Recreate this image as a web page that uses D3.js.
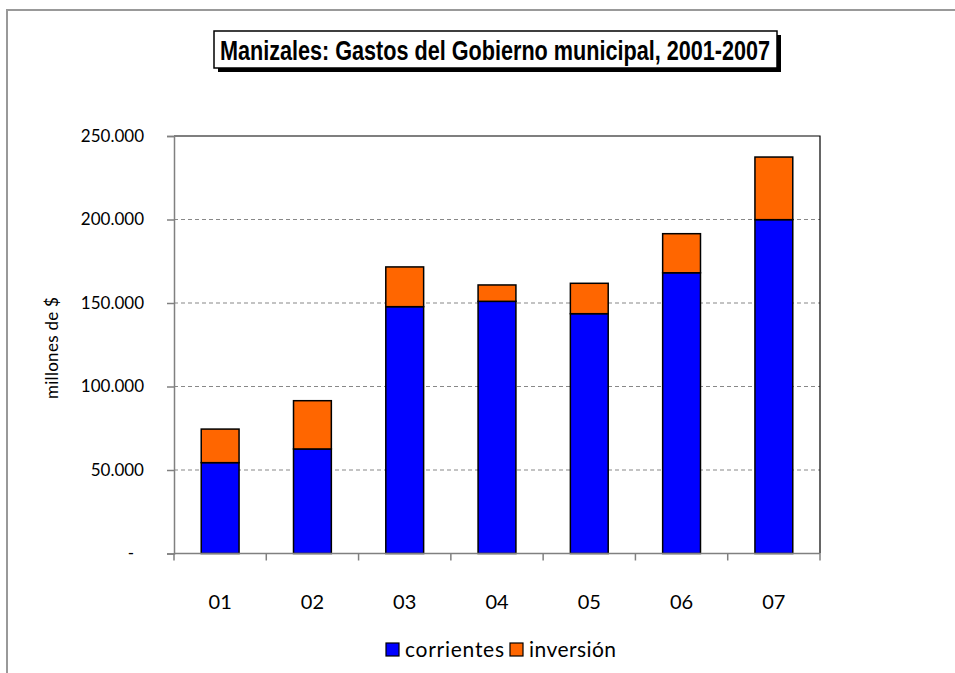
<!DOCTYPE html>
<html>
<head>
<meta charset="utf-8">
<script src="https://cdn.jsdelivr.net/npm/d3@7"></script>
<style>
  body { margin: 0; background: #fff; }
  svg { display: block; }
</style>
</head>
<body>
<div class="chart"></div>
<script>
// data
const years = ['01', '02', '03', '04', '05', '06', '07'];
const corrientes = [54400, 62600, 147800, 151000, 143600, 168100, 199900];
const inversion = [20100, 28900, 23800, 9800, 18200, 23400, 37500];
const seriesNames = ['corrientes', 'inversión'];
const yTicks = [0, 50000, 100000, 150000, 200000, 250000];

const W = 955, H = 673;
const margin = {top: 136, right: 135, bottom: 120, left: 174};
const width = W - margin.left - margin.right;
const height = H - margin.top - margin.bottom + 0.5;
const font = 'Lato, "Open Sans", sans-serif';

const svg = d3.select('.chart')
  .append('svg')
  .attr('width', W)
  .attr('height', H);

// outer chart border
svg.append('rect')
  .attr('x', 7).attr('y', 10)
  .attr('width', W + 10).attr('height', H + 10)
  .attr('fill', 'none')
  .attr('stroke', '#999')
  .attr('stroke-width', 2);

const g = svg.append('g')
  .attr('transform', `translate(${margin.left},${margin.top})`);

const x = d3.scaleBand()
  .domain(years)
  .range([0, width])
  .paddingInner(0.59)
  .paddingOuter(0.295);

const xb = d3.scaleBand().domain(years).range([0, width]);

const y = d3.scaleLinear()
  .domain([0, 250000])
  .range([height, 0]);

const fmt = d => d === 0 ? '-' : d3.format(',')(d).replace(/,/g, '.');

// gridlines
g.selectAll('.grid')
  .data(yTicks.filter(d => d > 0 && d < 250000))
  .enter().append('line')
  .attr('class', 'grid')
  .attr('x1', 0).attr('x2', width)
  .attr('y1', d => y(d)).attr('y2', d => y(d))
  .attr('stroke', '#888')
  .attr('stroke-width', 1.2)
  .attr('stroke-dasharray', '4,3');

// top and right frame
g.append('path')
  .attr('d', `M0,0H${width}V${height}`)
  .attr('fill', 'none')
  .attr('stroke', '#000')
  .attr('stroke-width', 1.2);

// stacked bars
const stackData = years.map((yr, i) => ({year: yr, corrientes: corrientes[i], 'inversión': inversion[i]}));
const stacked = d3.stack().keys(seriesNames)(stackData);
const color = d3.scaleOrdinal().domain(seriesNames).range(['#0000ff', '#ff6600']);

g.selectAll('.series')
  .data(stacked)
  .enter().append('g')
  .attr('class', 'series')
  .attr('fill', d => color(d.key))
  .selectAll('rect')
  .data(d => d)
  .enter().append('rect')
  .attr('x', d => x(d.data.year))
  .attr('y', d => y(d[1]))
  .attr('width', x.bandwidth())
  .attr('height', d => y(d[0]) - y(d[1]))
  .attr('stroke', '#000')
  .attr('stroke-width', 1.5);

// y axis
const yAxis = g.append('g')
  .call(d3.axisLeft(y).tickValues(yTicks).tickFormat(fmt).tickSize(7).tickPadding(23));
yAxis.select('.domain').attr('stroke', '#808080').attr('stroke-width', 1.5);
yAxis.selectAll('.tick line').attr('stroke', '#808080').attr('stroke-width', 1.5);
yAxis.selectAll('.tick text')
  .style('font-family', font)
  .style('font-size', '17px')
  .attr('fill', '#000')
  .attr('dx', d => d === 0 ? -10 : 0);

// x axis: ticks between categories
const xAxisG = g.append('g').attr('transform', `translate(0,${height})`);
xAxisG.append('line')
  .attr('x1', 0).attr('x2', width)
  .attr('stroke', '#808080').attr('stroke-width', 1.5);
xAxisG.selectAll('.xtick')
  .data(years.concat(['end']))
  .enter().append('line')
  .attr('class', 'xtick')
  .attr('x1', d => d === 'end' ? width : xb(d))
  .attr('x2', d => d === 'end' ? width : xb(d))
  .attr('y1', 0).attr('y2', 7)
  .attr('stroke', '#808080').attr('stroke-width', 1.5);
xAxisG.selectAll('.xlabel')
  .data(years)
  .enter().append('text')
  .attr('class', 'xlabel')
  .attr('x', d => xb(d) + xb.bandwidth() / 2)
  .attr('y', 55)
  .attr('text-anchor', 'middle')
  .style('font-family', font)
  .style('font-size', '20px')
  .text(d => d);

// y label
svg.append('text')
  .attr('transform', 'translate(58,348) rotate(-90)')
  .attr('text-anchor', 'middle')
  .attr('textLength', 102)
  .attr('lengthAdjust', 'spacing')
  .style('font-family', font)
  .style('font-size', '17px')
  .text('millones de $');

// title box with shadow
svg.append('rect')
  .attr('x', 218).attr('y', 35)
  .attr('width', 563).attr('height', 37)
  .attr('fill', '#000');
svg.append('rect')
  .attr('x', 214).attr('y', 31)
  .attr('width', 563).attr('height', 37)
  .attr('fill', '#fff')
  .attr('stroke', '#000')
  .attr('stroke-width', 1.5);
svg.append('text')
  .attr('x', 220).attr('y', 60)
  .attr('textLength', 550)
  .attr('lengthAdjust', 'spacingAndGlyphs')
  .style('font-family', '"Liberation Sans Narrow", "Arial Narrow", "Liberation Sans", sans-serif')
  .style('font-weight', 'bold')
  .style('font-size', '27px')
  .text('Manizales: Gastos del Gobierno municipal, 2001-2007');

// legend
const legend = svg.append('g').attr('transform', 'translate(386,643)');
const legendX = [0, 124];
const legendItems = legend.selectAll('.leg')
  .data(seriesNames)
  .enter().append('g')
  .attr('class', 'leg')
  .attr('transform', (d, i) => `translate(${legendX[i]},0)`);
legendItems.append('rect')
  .attr('width', 13).attr('height', 13)
  .attr('fill', d => color(d))
  .attr('stroke', '#000')
  .attr('stroke-width', 1.2);
legendItems.append('text')
  .attr('x', 19).attr('y', 14)
  .attr('textLength', d => d === 'corrientes' ? 99 : 87)
  .attr('lengthAdjust', 'spacing')
  .style('font-family', font)
  .style('font-size', '21px')
  .text(d => d);
</script>
</body>
</html>
